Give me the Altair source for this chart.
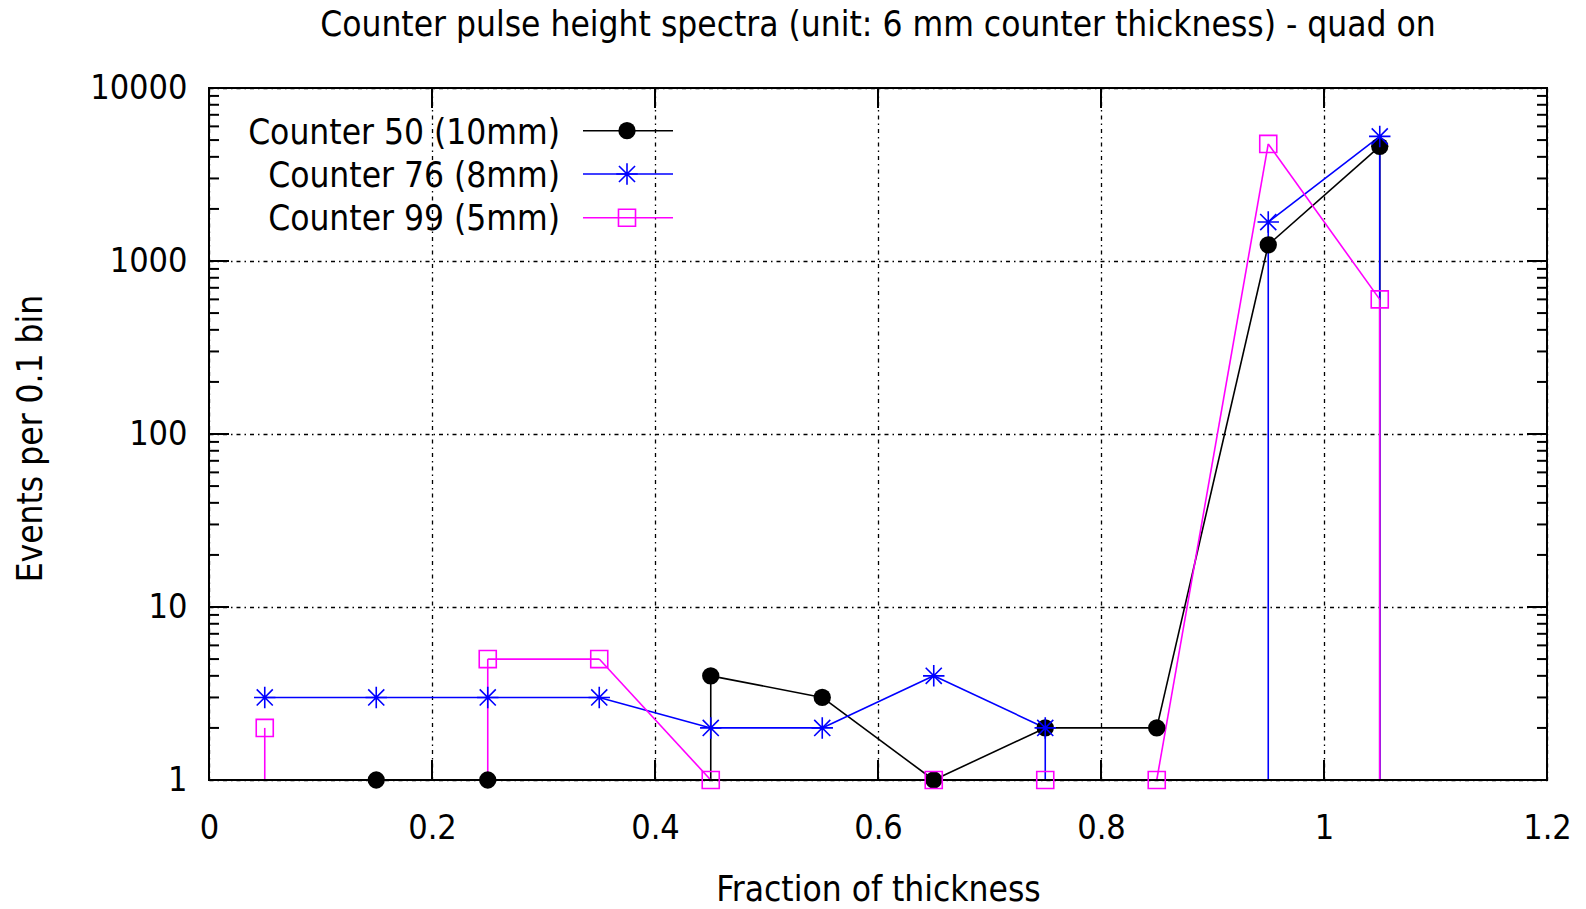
import altair as alt
import pandas as pd

# Bin centres (fraction of the 6 mm unit thickness) and events per 0.1 bin
bin_centers = [0.05, 0.15, 0.25, 0.35, 0.45, 0.55, 0.65, 0.75, 0.85, 0.95, 1.05, 1.15]
counter50 = [0, 1, 1, 0, 4, 3, 1, 2, 2, 1240, 4600, 0]
counter76 = [3, 3, 3, 3, 2, 2, 4, 2, 0, 1680, 5250, 0]
counter99 = [2, 0, 5, 5, 1, 0, 1, 1, 1, 4750, 600, 0]

series_names = ["Counter 50 (10mm)", "Counter 76 (8mm)", "Counter 99 (5mm)"]
series_values = [counter50, counter76, counter99]
series_colors = ["#000000", "#0000ff", "#ff00ff"]

title_text = "Counter pulse height spectra (unit: 6 mm counter thickness) - quad on"

x_ticks = [0, 0.2, 0.4, 0.6, 0.8, 1.0, 1.2]
y_ticks = [1, 10, 100, 1000, 10000]
y_minor = [m * 10 ** d for d in range(4) for m in range(2, 10)]

W, H = 1338, 692
FONT = "'DejaVu Sans Condensed', 'Liberation Sans', sans-serif"
Y_FLOOR = 1  # bottom of the log axis; empty bins drop to it

STAR = "M-1,0L1,0M0,-1L0,1M-0.75,-0.75L0.75,0.75M-0.75,0.75L0.75,-0.75"

x_scale = alt.Scale(domain=[0, 1.2], nice=False, zero=False)
y_scale = alt.Scale(type="log", domain=[1, 10000], nice=False)


def segments(values):
    """Line pieces between neighbouring bins; a bin with no events
    sends the line straight down to the floor of the log axis."""
    rows = []
    pts = list(zip(bin_centers, values))
    for (x0, v0), (x1, v1) in zip(pts, pts[1:]):
        if v0 > 0 and v1 > 0:
            rows.append(dict(x=x0, y=v0, x2=x1, y2=v1))
        elif v0 > 0:
            rows.append(dict(x=x0, y=v0, x2=x0, y2=Y_FLOOR))
        elif v1 > 0:
            rows.append(dict(x=x1, y=Y_FLOOR, x2=x1, y2=v1))
    return pd.DataFrame(rows)


def points(values):
    return pd.DataFrame(
        [dict(x=x, y=v) for x, v in zip(bin_centers, values) if v > 0]
    )


def point_mark(i):
    if i == 0:
        return dict(shape="circle", filled=True, size=300, strokeWidth=0)
    if i == 1:
        return dict(shape=STAR, filled=False, size=460, strokeWidth=1.6)
    return dict(shape="square", filled=False, size=290, strokeWidth=1.6)


# Axes with labels and dotted grid; ticks are drawn separately (inward)
grid_dash = [4, 4, 1.5, 4]
base = alt.Chart(pd.DataFrame({"x": x_ticks, "y": [1, 10, 100, 1000, 10000, 10000, 10000]})).mark_point(
    opacity=0
).encode(
    x=alt.X(
        "x:Q",
        scale=x_scale,
        axis=alt.Axis(
            values=x_ticks, format="~g", title="Fraction of thickness",
            grid=True, gridDash=grid_dash, gridColor="#000000", gridWidth=1.3, gridOpacity=1,
            ticks=False, domain=False, labelPadding=31, labelFontSize=34, labelFont=FONT,
            labelColor="#000000", titleFont=FONT, titleFontSize=35, titleFontWeight="normal",
            titleColor="#000000", titleX=W / 2, titleY=120, titleBaseline="alphabetic",
            titleAlign="center", labelFlush=False,
        ),
    ),
    y=alt.Y(
        "y:Q",
        scale=y_scale,
        axis=alt.Axis(
            values=y_ticks, format="d", title="Events per 0.1 bin",
            grid=True, gridDash=grid_dash, gridColor="#000000", gridWidth=1.3, gridOpacity=1,
            ticks=False, domain=False, labelPadding=22, labelFontSize=34, labelFont=FONT,
            labelColor="#000000", titleFont=FONT, titleFontSize=35, titleFontWeight="normal",
            titleColor="#000000", titleX=-168, titleY=350, titleAngle=270,
            titleBaseline="alphabetic", titleAlign="center", labelFlush=False,
        ),
    ),
)

layers = [base]

# Series lines
for i, vals in enumerate(series_values):
    layers.append(
        alt.Chart(segments(vals)).mark_rule(color=series_colors[i], strokeWidth=1.6).encode(
            x=alt.X("x:Q", scale=x_scale),
            y=alt.Y("y:Q", scale=y_scale),
            x2="x2:Q",
            y2="y2:Q",
        )
    )

# Frame and inward tick marks
one = alt.Data(values=[{}])
frame = alt.Chart(one).mark_rect(
    fillOpacity=0, stroke="#000000", strokeWidth=2
).encode(x=alt.value(0), x2=alt.value(W), y=alt.value(0), y2=alt.value(H))
layers.append(frame)

xt = pd.DataFrame({"x": x_ticks})
for y0, y1 in [(H, H - 20), (0, 20)]:
    layers.append(
        alt.Chart(xt).mark_rule(color="#000000", strokeWidth=2).encode(
            x=alt.X("x:Q", scale=x_scale), y=alt.value(y0), y2=alt.value(y1)
        )
    )
yt = pd.DataFrame({"y": y_ticks})
ym = pd.DataFrame({"y": y_minor})
for df, length in [(yt, 20), (ym, 10)]:
    for x0, x1 in [(0, length), (W, W - length)]:
        layers.append(
            alt.Chart(df).mark_rule(color="#000000", strokeWidth=2).encode(
                y=alt.Y("y:Q", scale=y_scale), x=alt.value(x0), x2=alt.value(x1)
            )
        )

# Series points
for i, vals in enumerate(series_values):
    layers.append(
        alt.Chart(points(vals)).mark_point(color=series_colors[i], opacity=1, **point_mark(i)).encode(
            x=alt.X("x:Q", scale=x_scale),
            y=alt.Y("y:Q", scale=y_scale),
        )
    )

# Key in the upper-left corner
key_text_y = [55.5, 98.5, 142]
key_line_y = [42.7, 86, 129.7]
for i, name in enumerate(series_names):
    layers.append(
        alt.Chart(one).mark_text(
            text=name, align="right", baseline="alphabetic", font=FONT, fontSize=35, color="#000000"
        ).encode(x=alt.value(351), y=alt.value(key_text_y[i]))
    )
    layers.append(
        alt.Chart(one).mark_rule(color=series_colors[i], strokeWidth=1.6).encode(
            x=alt.value(374), x2=alt.value(464), y=alt.value(key_line_y[i])
        )
    )
    layers.append(
        alt.Chart(one).mark_point(color=series_colors[i], opacity=1, **point_mark(i)).encode(
            x=alt.value(418), y=alt.value(key_line_y[i])
        )
    )

# Chart heading above the frame
layers.append(
    alt.Chart(one).mark_text(
        text=title_text, align="center", baseline="alphabetic", font=FONT, fontSize=35, color="#000000"
    ).encode(x=alt.value(W / 2), y=alt.value(-52))
)

chart = alt.layer(*layers).properties(
    width=W,
    height=H,
    padding={"left": 209, "top": 88, "right": 39, "bottom": 129},
    autosize=alt.AutoSizeParams(type="none"),
).configure_view(stroke=None).configure(background="#ffffff")

chart.save("out.html", embed_options={"renderer": "svg", "actions": False})
